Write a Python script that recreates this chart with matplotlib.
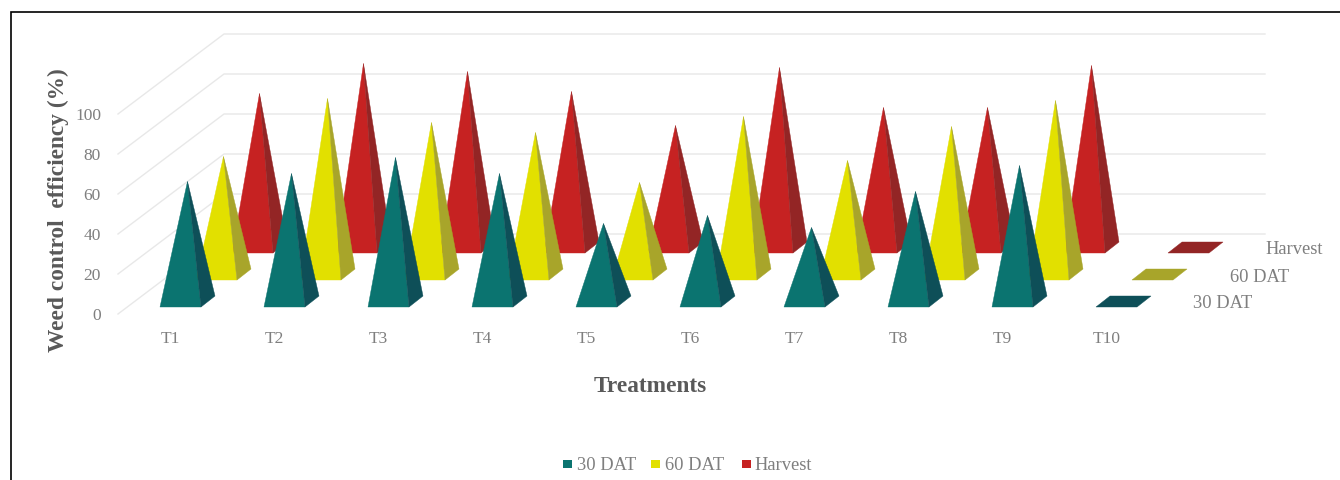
import matplotlib
matplotlib.use('Agg')
import matplotlib.pyplot as plt
from matplotlib.patches import Polygon, Rectangle

treatments = ['T1', 'T2', 'T3', 'T4', 'T5', 'T6', 'T7', 'T8', 'T9', 'T10']
series_names = ['30 DAT', '60 DAT', 'Harvest']
dat30 = [60, 64, 72, 64, 39, 43, 37, 55, 68]
dat60 = [59, 88, 76, 71, 46, 79, 57, 74, 87]
harvest = [77, 92, 88, 78, 61, 90, 70, 70, 91]
y_ticks = [0, 20, 40, 60, 80, 100]
y_labels = ['0', '20', '40', '60', '80', '100']

front_colors = ['#0b7470', '#e2e000', '#c62222']
side_colors = ['#0e4f58', '#a8a52a', '#932525']
grid_color = '#e8e8e8'
tick_color = '#7f7f7f'
title_color = '#595959'

# one category is 104 px wide, one percent is 2 px tall
cat_w = 104.0
unit_h = 2.0
px_x = 1 / cat_w
px_y = 1 / unit_h

# oblique projection offsets, in data units
series_dx = 36 * px_x
series_dy = 27 * px_y
half_w = 20.5 * px_x
depth_dx = 14 * px_x
depth_dy = 11 * px_y
floor_y = 3.5
wall_dx = 106 * px_x
wall_dy = 40.0

plt.rcParams['font.family'] = ['Liberation Serif', 'DejaVu Serif']

fig = plt.figure(figsize=(13.4, 4.8), dpi=100)
ax = fig.add_axes([0, 0, 1, 1])
ax.set_xlim(-180.5 * px_x, (1340 - 180.5) * px_x)
ax.set_ylim(-83, 157)
ax.axis('off')


def pyramid(cat, s, value):
    x = cat + s * series_dx
    y = floor_y + s * series_dy
    left = (x - half_w, y)
    right = (x + half_w, y)
    rear = (x + half_w + depth_dx, y + depth_dy)
    apex = (x + depth_dx / 2, y + depth_dy / 2 + value)
    ax.add_patch(Polygon([left, right, apex], fc=front_colors[s], ec=front_colors[s], lw=0.3))
    ax.add_patch(Polygon([right, rear, apex], fc=side_colors[s], ec=side_colors[s], lw=0.3))


def floor_swatch(cat, s):
    x = cat + s * series_dx
    y = floor_y + s * series_dy
    ax.add_patch(Polygon([(x - half_w, y), (x + half_w, y),
                          (x + half_w + depth_dx, y + depth_dy),
                          (x - half_w + depth_dx, y + depth_dy)],
                         fc=side_colors[s], ec=side_colors[s], lw=0.3))


# left wall and back wall gridlines
x_start = (118 - 180.5) * px_x
x_end = (1265 - 180.5) * px_x
for t in y_ticks:
    ax.plot([x_start, x_start + wall_dx, x_end], [t, t + wall_dy, t + wall_dy],
            color=grid_color, lw=1.0, zorder=0, solid_joinstyle='miter')

for t, lab in zip(y_ticks, y_labels):
    ax.text((101 - 180.5) * px_x, t - 1, lab, ha='right', va='center', fontsize=12.5, color=tick_color)

# back series first so the nearer pyramids cover them
for s, values in reversed(list(enumerate([dat30, dat60, harvest]))):
    for cat, v in enumerate(values):
        pyramid(cat, s, v)
    floor_swatch(len(values), s)

for i, lab in enumerate(treatments):
    ax.text(i - 10 * px_x, -12.5, lab, ha='center', va='center', fontsize=12.5, color=tick_color)

# depth axis labels
depth_label_x = [1222.5, 1259.5, 1294]
depth_label_y = [304, 277, 250]
for name, lx, ly in zip(series_names, depth_label_x, depth_label_y):
    ax.text((lx - 180.5) * px_x, (314 - ly) * px_y, name, ha='center', va='center', fontsize=13.3, color=tick_color)

ax.text((58 - 180.5) * px_x, (314 - 210.5) * px_y, 'Weed control  efficiency (%)', rotation=90,
        ha='center', va='center', fontsize=16.8, fontweight='bold', color=title_color)
ax.text((650 - 180.5) * px_x, (314 - 386.5) * px_y, 'Treatments', ha='center', va='center',
        fontsize=16.8, fontweight='bold', color=title_color)

# legend row along the bottom
legend_box_x = [563, 651, 742]
legend_text_x = [577, 665, 754]
for s, name in enumerate(series_names):
    ax.add_patch(Rectangle(((legend_box_x[s] - 180.5) * px_x, (314 - 468) * px_y), 8.5 * px_x, 8.5 * px_y,
                           fc=front_colors[s], ec='none'))
    ax.text((legend_text_x[s] - 180.5) * px_x, (314 - 465) * px_y, name, ha='left', va='center',
            fontsize=13.3, color=tick_color)

# black frame round the chart
fig.add_artist(plt.Line2D([11 / 1340, 11 / 1340, 1340 / 1340], [0, 468 / 480, 468 / 480],
                          color='black', lw=1.2, solid_joinstyle='miter'))

fig.savefig('out.png', dpi=100)
